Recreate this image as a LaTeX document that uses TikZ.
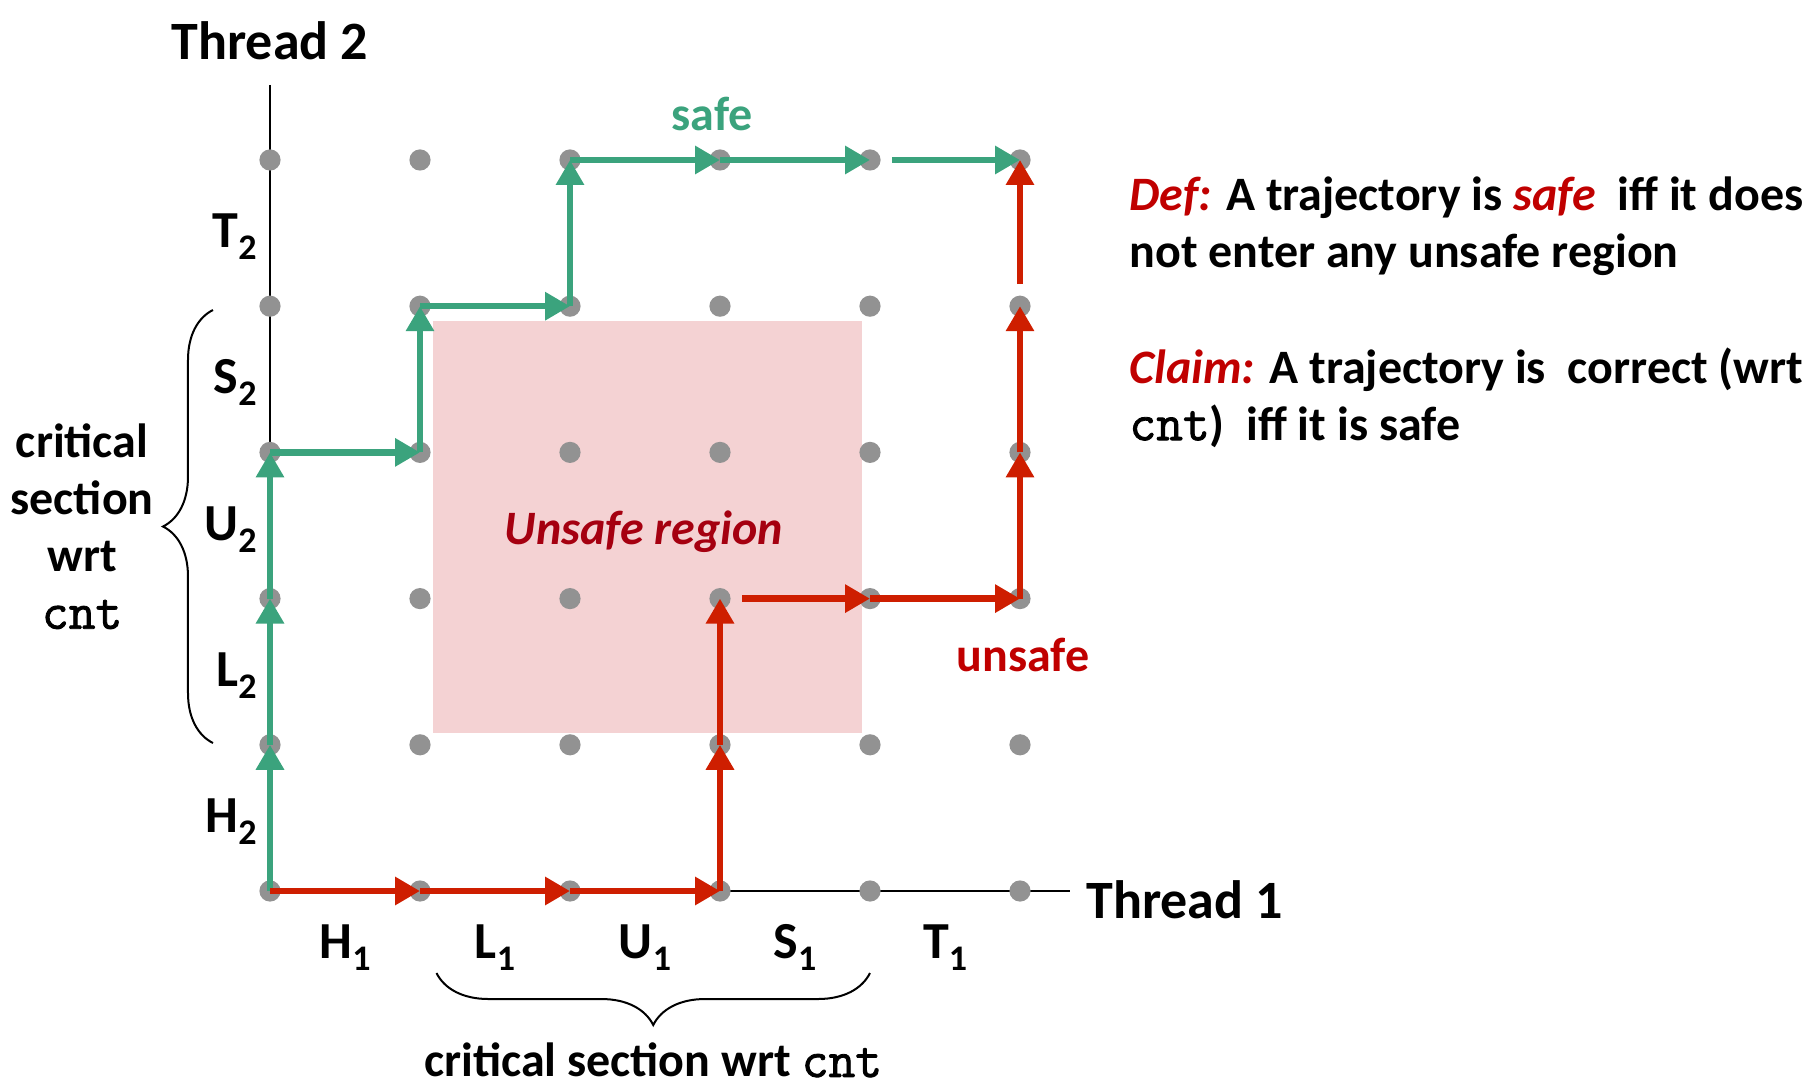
\documentclass[tikz,border=0pt]{standalone}
\usepackage{fontspec}
\setmainfont{Carlito}
\newfontfamily\cntfont{Latin Modern Mono}[FakeBold=1.6]
\usepackage{tikz}
\usetikzlibrary{arrows.meta,positioning,decorations.pathreplacing}

\definecolor{safegreen}{RGB}{59,163,125}
\definecolor{unsafered}{RGB}{206,30,0}
\definecolor{labelred}{RGB}{192,0,0}
\definecolor{regionred}{RGB}{165,0,16}
\definecolor{regionpink}{RGB}{244,210,211}
\definecolor{dotgray}{RGB}{146,146,146}

\newcommand{\seg}[2]{#1\raisebox{-6pt}{\fontsize{18}{18}\selectfont #2}}
\newcommand{\cnt}{{\cntfont\fontsize{26}{28.5}\selectfont cnt}}

\begin{document}
\begin{tikzpicture}[
  x=75pt, y=73.1pt,
  pt/.style={circle, fill=dotgray, inner sep=0pt, minimum size=10.6pt},
  safe/.style={-{Triangle[length=12.5pt,width=13.5pt]}, line width=3.2pt, draw=safegreen, fill=safegreen},
  unsafe/.style={-{Triangle[length=12.5pt,width=13.5pt]}, line width=3.2pt, draw=unsafered, fill=unsafered},
  late/.style={shorten <=11pt},
  axis/.style={line width=1pt},
  big/.style={font=\fontsize{27}{32}\selectfont\bfseries, inner sep=0pt},
  seglab/.style={font=\fontsize{26}{30}\selectfont\bfseries, inner sep=0pt},
  txt/.style={font=\fontsize{24}{28.5}\selectfont\bfseries, inner sep=0pt},
  brc/.style={decorate, line width=1pt}
]
\useasboundingbox (-1.8,-1.3748) rectangle (10.3067,6.0944);

% unsafe region
\fill[regionpink] (1.087,1.081) rectangle (3.947,3.899);
\node[txt, font=\fontsize{24}{28.5}\selectfont\bfseries\itshape, text=regionred, anchor=base] (region) at (2.493,2.373) {Unsafe region};

% axes
\coordinate (o) at (0,0);
\coordinate (xend) at (5.333,0);
\coordinate (yend) at (0,5.513);
\draw[axis] (yend) -- (o) -- (xend);

% grid of states
\foreach \i in {0,...,5}
  \foreach \j in {0,...,5}
    \node[pt] (p\i\j) at (\i,\j) {};

% safe trajectory
\foreach \a/\b in {00/01,01/02,02/03,03/13,13/14,14/24,24/25,25/35,35/45}
  \draw[safe] (p\a.center) -- (p\b.center);
\draw[safe, late] (p45.center) -- (p55.center);

% unsafe trajectory
\foreach \a/\b in {00/10,10/20,20/30,30/31,31/32,42/52,52/53,53/54}
  \draw[unsafe] (p\a.center) -- (p\b.center);
\draw[unsafe, late] (p32.center) -- (p42.center);
\draw[unsafe, late] (p54.center) -- (p55.center);

% thread labels
\node[big, anchor=base] (thr2) at (0,5.684) {Thread 2};
\node[big, anchor=base west] (thr1) at (5.44,-0.185) {Thread 1};

% instruction labels
\foreach \name/\k in {H/0,L/1,U/2,S/3,T/4} {
  \node[seglab, anchor=base east] (v\name) at (-0.087,\k+0.4) {\seg{\name}{2}};
  \node[seglab, anchor=base] (h\name) at (\k+0.5,-0.465) {\seg{\name}{1}};
}

% critical sections
\coordinate (lbot) at (-0.38,1.012);
\coordinate (ltop) at (-0.38,3.974);
\draw[brc, decoration={brace, amplitude=25pt}] (lbot) -- (ltop);
\coordinate (ltip) at (-0.713,2.493);
\node[txt, align=center, left=4.5pt of ltip] (lcs) {critical\\section\\wrt\\\cnt};

\coordinate (bl) at (1.11,-0.561);
\coordinate (br) at (4.0,-0.561);
\draw[brc, decoration={brace, mirror, amplitude=26pt}] (bl) -- (br);
\node[txt, anchor=base] (bcs) at (2.555,-1.272) {critical section wrt \cnt};

% trajectory labels
\node[txt, text=safegreen, anchor=base] (safelab) at (2.947,5.205) {safe};
\node[txt, text=labelred, anchor=base] (unsafelab) at (5.02,1.498) {unsafe};

% definitions
\node[txt, align=left, anchor=north west] (def) at (5.727,4.89)
  {\textcolor{labelred}{\itshape Def:} A trajectory is \textcolor{labelred}{\itshape safe}~ iff it does\\not enter any unsafe region};
\node[txt, align=left, anchor=north west] (claim) at (5.727,3.72)
  {\textcolor{labelred}{\itshape Claim:} A trajectory is~ correct (wrt\\\cnt)~ iff it is safe};
\end{tikzpicture}
\end{document}
